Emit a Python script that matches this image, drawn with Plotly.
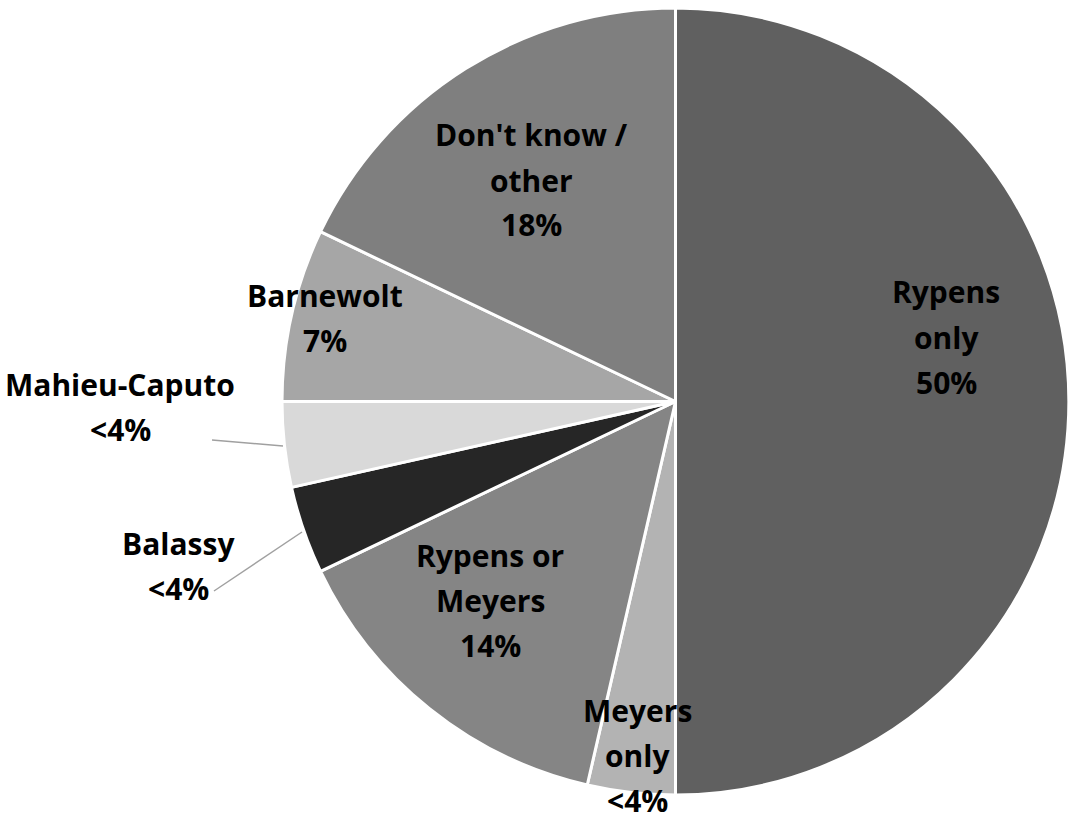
import plotly.graph_objects as go

categories = ["Rypens only", "Meyers only", "Rypens or Meyers", "Balassy",
              "Mahieu-Caputo", "Barnewolt", "Don't know / other"]
values = [50.0, 3.6, 14.3, 3.6, 3.5, 7.1, 17.9]
label_texts = ["Rypens<br>only<br>50%", "Meyers<br>only<br><4%", "Rypens or<br>Meyers<br>14%",
               "Balassy<br><4%", "Mahieu-Caputo<br><4%", "Barnewolt<br>7%",
               "Don't know /<br>other<br>18%"]
colors = ["#606060", "#b3b3b3", "#858585", "#262626", "#d9d9d9", "#a6a6a6", "#7f7f7f"]

W, H = 1070, 821
# label centre positions (pixels) for each category
label_pos = [(946, 337), (637, 755), (490, 600), (178, 566), (120, 407), (325, 318), (531, 180)]
line_gap = 45

fig = go.Figure(go.Pie(
    labels=categories, values=values, sort=False, direction="clockwise", rotation=0,
    marker=dict(colors=colors, line=dict(color="white", width=3)),
    textinfo="none", hoverinfo="label+percent", showlegend=False,
    domain=dict(x=[(675.5 - 393.5) / W, (675.5 + 393.5) / W],
                y=[1 - (401.5 + 393.5) / H, 1 - (401.5 - 393.5) / H]),
))

annotations = []
for (px, py), txt in zip(label_pos, label_texts):
    lines = txt.split("<br>")
    n = len(lines)
    for i, ln in enumerate(lines):
        ly = py + (i - (n - 1) / 2) * line_gap
        annotations.append(dict(x=px / W, y=1 - ly / H, xref="paper", yref="paper",
                                text="<b>" + ln + "</b>", showarrow=False,
                                font=dict(family="Open Sans", size=30, color="black"),
                                xanchor="center", yanchor="middle"))

shapes = [
    dict(type="line", xref="paper", yref="paper", x0=212 / W, y0=1 - 440 / H,
         x1=283 / W, y1=1 - 446 / H, line=dict(color="#a0a0a0", width=1.5)),
    dict(type="line", xref="paper", yref="paper", x0=214 / W, y0=1 - 591 / H,
         x1=302 / W, y1=1 - 532 / H, line=dict(color="#a0a0a0", width=1.5)),
]

fig.update_layout(width=W, height=H, margin=dict(l=0, r=0, t=0, b=0),
                  paper_bgcolor="white", plot_bgcolor="white",
                  annotations=annotations, shapes=shapes)
fig.write_html("out.html", config={"displayModeBar": False},
               post_script="document.body.style.margin='0';document.body.style.overflow='hidden';")
